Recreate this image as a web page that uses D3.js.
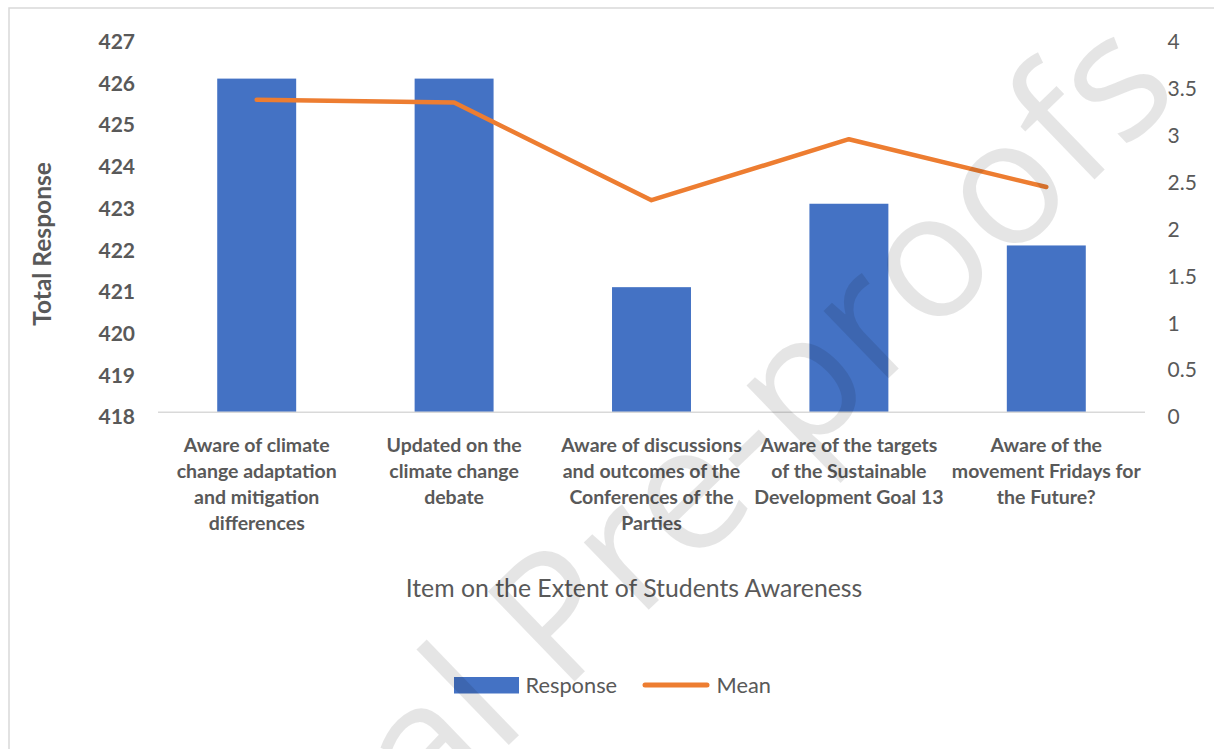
<!DOCTYPE html>
<html>
<head>
<meta charset="utf-8">
<script src="https://cdn.jsdelivr.net/npm/d3@7"></script>
<style>
  html, body { margin: 0; padding: 0; background: #ffffff; }
  svg { display: block; }
</style>
</head>
<body>
<svg id="chart" width="1214" height="749"></svg>
<script>
// ---------- data ----------
const categories = [
  "Aware of climate change adaptation and mitigation differences",
  "Updated on the climate change debate",
  "Aware of discussions and outcomes of the Conferences of the Parties",
  "Aware of the targets of the Sustainable Development Goal 13",
  "Aware of the movement Fridays for the Future?"
];
const categoryLines = [
  ["Aware of climate", "change adaptation", "and mitigation", "differences"],
  ["Updated on the", "climate change", "debate"],
  ["Aware of discussions", "and outcomes of the", "Conferences of the", "Parties"],
  ["Aware of the targets", "of the Sustainable", "Development Goal 13"],
  ["Aware of the", "movement Fridays for", "the Future?"]
];
const responseValues = [426, 426, 421, 423, 422];
const meanValues = [3.33, 3.30, 2.26, 2.91, 2.40];
const leftTicks = [418, 419, 420, 421, 422, 423, 424, 425, 426, 427];
const rightTicks = [0, 0.5, 1, 1.5, 2, 2.5, 3, 3.5, 4];
const seriesNames = ["Response", "Mean"];
const yTitle = "Total Response";
const xTitle = "Item on the Extent of Students Awareness";
const watermarkText = "Journal Pre-proofs";

// ---------- layout ----------
const svg = d3.select("#chart");
const plot = { left: 158, right: 1145, top: 36.9, bottom: 412.3 };
const textColor = "#595959";
const font = "Lato, 'Open Sans', sans-serif";

// chart border
svg.append("rect")
  .attr("x", 9).attr("y", 8).attr("width", 1400).attr("height", 900)
  .attr("fill", "#ffffff").attr("stroke", "#d9d9d9").attr("stroke-width", 1.5);

const x = d3.scaleBand()
  .domain(d3.range(categories.length))
  .range([plot.left, plot.right])
  .paddingInner(0.6).paddingOuter(0.3);
const xCenter = i => x(i) + x.bandwidth() / 2;

const yL = d3.scaleLinear().domain([418, 427]).range([plot.bottom, plot.top]);
const yR = d3.scaleLinear().domain([0, 4]).range([plot.bottom, plot.top]);

// bars
svg.append("g").selectAll("rect")
  .data(responseValues)
  .join("rect")
  .attr("x", (d, i) => x(i))
  .attr("width", x.bandwidth())
  .attr("y", d => yL(d))
  .attr("height", d => yL(418) - yL(d))
  .attr("fill", "#4472c4");

// baseline axis line
svg.append("line")
  .attr("x1", plot.left).attr("x2", plot.right)
  .attr("y1", plot.bottom).attr("y2", plot.bottom)
  .attr("stroke", "#d9d9d9").attr("stroke-width", 1.5);

// line series
const line = d3.line().x((d, i) => xCenter(i)).y(d => yR(d));
svg.append("path")
  .datum(meanValues)
  .attr("d", line)
  .attr("fill", "none")
  .attr("stroke", "#ed7d31")
  .attr("stroke-width", 4.5)
  .attr("stroke-linecap", "round")
  .attr("stroke-linejoin", "round");

// left axis (D3 axis, domain/ticks hidden)
const leftAxis = svg.append("g")
  .attr("transform", `translate(${plot.left},0)`)
  .call(d3.axisLeft(yL).tickValues(leftTicks).tickFormat(d3.format("d")).tickSize(0).tickPadding(23));
leftAxis.select(".domain").remove();
leftAxis.selectAll("text")
  .attr("fill", textColor)
  .attr("font-family", font)
  .attr("font-weight", "bold")
  .attr("font-size", 21)
  .attr("dy", "0.55em");

// right axis
const rightAxis = svg.append("g")
  .attr("transform", `translate(${plot.right},0)`)
  .call(d3.axisRight(yR).tickValues(rightTicks).tickFormat(d => String(d)).tickSize(0).tickPadding(22.5));
rightAxis.select(".domain").remove();
rightAxis.selectAll("text")
  .attr("fill", textColor)
  .attr("font-family", font)
  .attr("font-size", 21)
  .attr("dy", "0.55em");

// category labels
const catG = svg.append("g");
categoryLines.forEach((lines, i) => {
  const t = catG.append("text")
    .attr("x", xCenter(i))
    .attr("y", 451.5)
    .attr("text-anchor", "middle")
    .attr("fill", textColor)
    .attr("font-family", font)
    .attr("font-weight", "bold")
    .attr("font-size", 19.5);
  lines.forEach((ln, j) => {
    t.append("tspan").attr("x", xCenter(i)).attr("y", 451.5 + j * 26.3).text(ln);
  });
});

// y title
svg.append("text")
  .attr("transform", "translate(51,244) rotate(-90)")
  .attr("text-anchor", "middle")
  .attr("fill", textColor)
  .attr("font-family", font)
  .attr("font-weight", "bold")
  .attr("font-size", 24.5)
  .text(yTitle);

// x title
svg.append("text")
  .attr("x", 634).attr("y", 596.5)
  .attr("text-anchor", "middle")
  .attr("fill", textColor)
  .attr("font-family", font)
  .attr("font-size", 24.8)
  .text(xTitle);

// legend
const lg = svg.append("g");
lg.append("rect").attr("x", 454).attr("y", 677).attr("width", 65).attr("height", 16.5).attr("fill", "#4472c4");
lg.append("text").attr("x", 525.5).attr("y", 693)
  .attr("fill", textColor).attr("font-family", font).attr("font-size", 21.8).text(seriesNames[0]);
lg.append("line").attr("x1", 645).attr("x2", 707).attr("y1", 685).attr("y2", 685)
  .attr("stroke", "#ed7d31").attr("stroke-width", 5).attr("stroke-linecap", "round");
lg.append("text").attr("x", 716.5).attr("y", 693)
  .attr("fill", textColor).attr("font-family", font).attr("font-size", 21.8).text(seriesNames[1]);

// watermark
svg.append("text")
  .attr("transform", "translate(1183,94) rotate(-44)")
  .attr("text-anchor", "end")
  .attr("font-family", "'Open Sans', sans-serif")
  .attr("font-size", 175)
  .attr("fill", "#000000")
  .attr("fill-opacity", 0.1)
  .style("pointer-events", "none")
  .text(watermarkText);
</script>
</body>
</html>
